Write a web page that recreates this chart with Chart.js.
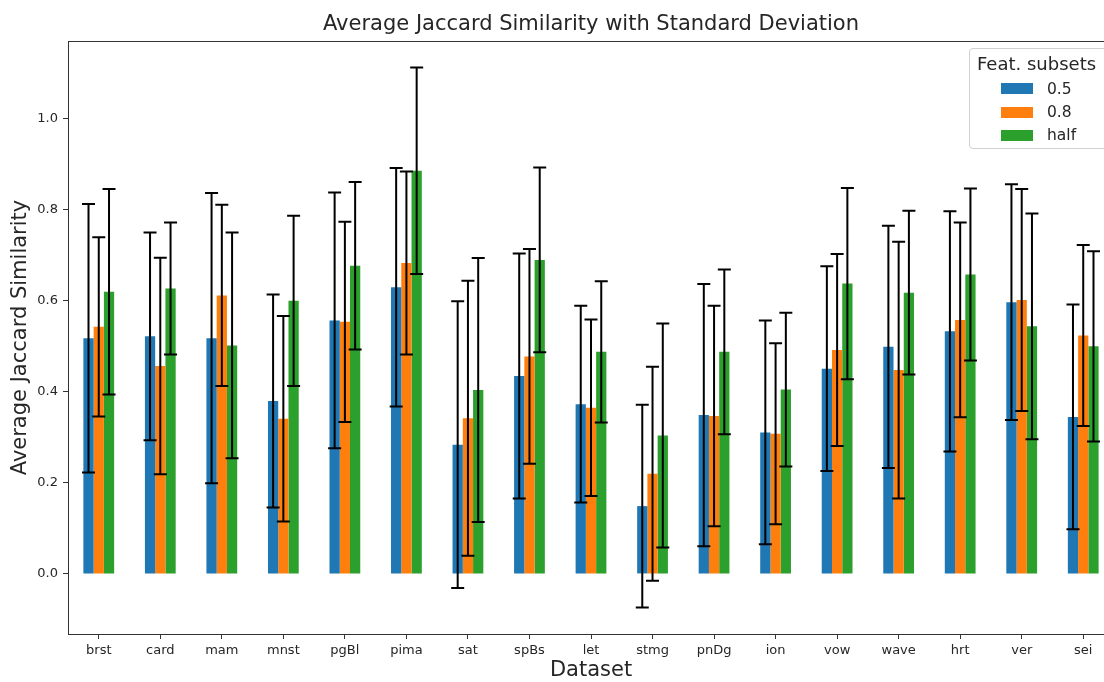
<!DOCTYPE html>
<html>
<head>
<meta charset="utf-8">
<script src="https://cdn.jsdelivr.net/npm/chart.js@4.4.1/dist/chart.umd.min.js"></script>
<style>
	html, body { margin: 0; padding: 0; background: #fff; overflow: hidden; }
	#wrap { position: relative; width: 1104px; height: 682px; overflow: hidden; }
	#legend {
		position: absolute; left: 969px; top: 48px; width: 140px; height: 99px;
		border: 1px solid #d0d0d0; border-radius: 4px; background: rgba(255,255,255,0.8);
		font-family: "DejaVu Sans", sans-serif; color: #262626;
	}
	#legend .title { position: absolute; left: 7px; top: 4px; font-size: 18px; line-height: 22px; white-space: nowrap; }
	#legend .patch { position: absolute; left: 31px; width: 32px; height: 11px; }
	#legend .label { position: absolute; left: 77px; font-size: 15.5px; line-height: 20px; }
</style>
</head>
<body>
<div id="wrap">
	<canvas id="chart" width="1120" height="682"></canvas>
	<div id="legend"></div>
</div>
<script>
const categories = ['brst', 'card', 'mam', 'mnst', 'pgBl', 'pima', 'sat', 'spBs', 'let', 'stmg', 'pnDg', 'ion', 'vow', 'wave', 'hrt', 'ver', 'sei'];
const seriesNames = ['0.5', '0.8', 'half'];

const mean05 = [0.518, 0.522, 0.518, 0.380, 0.557, 0.630, 0.284, 0.435, 0.373, 0.149, 0.349, 0.311, 0.451, 0.499, 0.533, 0.597, 0.345];
const std05 = [0.295, 0.228, 0.319, 0.234, 0.281, 0.262, 0.315, 0.269, 0.216, 0.223, 0.288, 0.246, 0.225, 0.266, 0.264, 0.259, 0.247];
const mean08 = [0.543, 0.457, 0.612, 0.341, 0.554, 0.683, 0.342, 0.478, 0.365, 0.220, 0.347, 0.308, 0.492, 0.448, 0.558, 0.602, 0.524];
const std08 = [0.197, 0.238, 0.199, 0.226, 0.220, 0.201, 0.302, 0.236, 0.194, 0.235, 0.242, 0.199, 0.211, 0.282, 0.214, 0.244, 0.199];
const meanHalf = [0.620, 0.627, 0.502, 0.600, 0.677, 0.886, 0.404, 0.690, 0.488, 0.304, 0.488, 0.405, 0.638, 0.618, 0.658, 0.544, 0.500];
const stdHalf = [0.226, 0.145, 0.248, 0.187, 0.184, 0.227, 0.290, 0.203, 0.155, 0.246, 0.181, 0.169, 0.210, 0.180, 0.189, 0.248, 0.209];

const yTicks = [0.0, 0.2, 0.4, 0.6, 0.8, 1.0];
const colors = ['#1f77b4', '#ff7f0e', '#2ca02c'];

const means = [mean05, mean08, meanHalf];
const stds = [std05, std08, stdHalf];

const FONT = '"DejaVu Sans", sans-serif';
const INK = '#262626';

// error bars drawn through the y scale, on top of the bars
const errorBars = {
	id: 'errorBars',
	afterDatasetsDraw(chart) {
		const { ctx, scales: { y } } = chart;
		ctx.save();
		ctx.strokeStyle = '#000';
		ctx.lineWidth = 2;
		chart.data.datasets.forEach((ds, i) => {
			const meta = chart.getDatasetMeta(i);
			meta.data.forEach((bar, j) => {
				const top = y.getPixelForValue(ds.data[j] + ds.errors[j]);
				const bot = y.getPixelForValue(ds.data[j] - ds.errors[j]);
				const x = bar.x;
				ctx.beginPath();
				ctx.moveTo(x, top);
				ctx.lineTo(x, bot);
				ctx.moveTo(x - 6.5, top);
				ctx.lineTo(x + 6.5, top);
				ctx.moveTo(x - 6.5, bot);
				ctx.lineTo(x + 6.5, bot);
				ctx.stroke();
			});
		});
		ctx.restore();
	}
}

const frame = {
	id: 'frame',
	afterDraw(chart) {
		const { ctx, chartArea: a } = chart;
		ctx.save();
		ctx.strokeStyle = '#333';
		ctx.lineWidth = 1;
		ctx.strokeRect(Math.round(a.left) + 0.5, Math.round(a.top) + 0.5, a.right - a.left, a.bottom - a.top);
		ctx.restore();
	}
}

const chart = new Chart(document.getElementById('chart'), {
	type: 'bar',
	data: {
		labels: categories,
		datasets: seriesNames.map((name, i) => ({
			label: name,
			data: means[i],
			errors: stds[i],
			backgroundColor: colors[i],
			borderWidth: 0,
			categoryPercentage: 0.5,
			barPercentage: 1.0,
		}))
	},
	options: {
		responsive: false,
		animation: false,
		devicePixelRatio: 1,
		layout: { padding: { left: 0, top: 0, right: 6, bottom: 0 } },
		plugins: {
			legend: { display: false },
			tooltip: { enabled: false },
			title: {
				display: true,
				text: 'Average Jaccard Similarity with Standard Deviation',
				fullSize: false,
				color: INK,
				font: { family: FONT, size: 21, weight: 'normal', lineHeight: 1.2 },
				padding: { top: 12, bottom: 3.8 }
			}
		},
		scales: {
			x: {
				grid: { display: true, offset: false, drawOnChartArea: false, drawTicks: true, tickLength: 5, color: '#333' },
				border: { display: false },
				ticks: { color: INK, padding: 4, font: { family: FONT, size: 13 }, maxRotation: 0 },
				title: {
					display: true, text: 'Dataset', color: INK,
					font: { family: FONT, size: 21, lineHeight: 1 },
					padding: { top: 0, bottom: 0.5 }
				},
				afterFit: s => { s.height = 48 }
			},
			y: {
				min: -0.132,
				max: 1.171,
				grid: { display: true, drawOnChartArea: false, drawTicks: true, tickLength: 5, color: '#333' },
				border: { display: false },
				afterBuildTicks: s => { s.ticks = yTicks.map(v => ({ value: v })) },
				ticks: {
					color: INK, padding: 5, font: { family: FONT, size: 13 },
					callback: v => v.toFixed(1)
				},
				title: {
					display: true, text: 'Average Jaccard Similarity', color: INK,
					font: { family: FONT, size: 21, lineHeight: 1.2 },
					padding: { top: 8, bottom: 0 }
				},
				afterFit: s => { s.width = 68 }
			}
		}
	},
	plugins: [errorBars, frame]
});

// legend box in the upper right corner, built from the datasets
const legend = document.getElementById('legend');
legend.innerHTML = '<div class="title">Feat. subsets</div>';
chart.data.datasets.forEach((ds, i) => {
	const cy = 39.7 + i * 23.3;
	legend.innerHTML += `<div class="patch" style="top:${cy - 5.5}px;background:${ds.backgroundColor}"></div>` +
		`<div class="label" style="top:${cy - 10}px">${ds.label}</div>`;
});
</script>
</body>
</html>
